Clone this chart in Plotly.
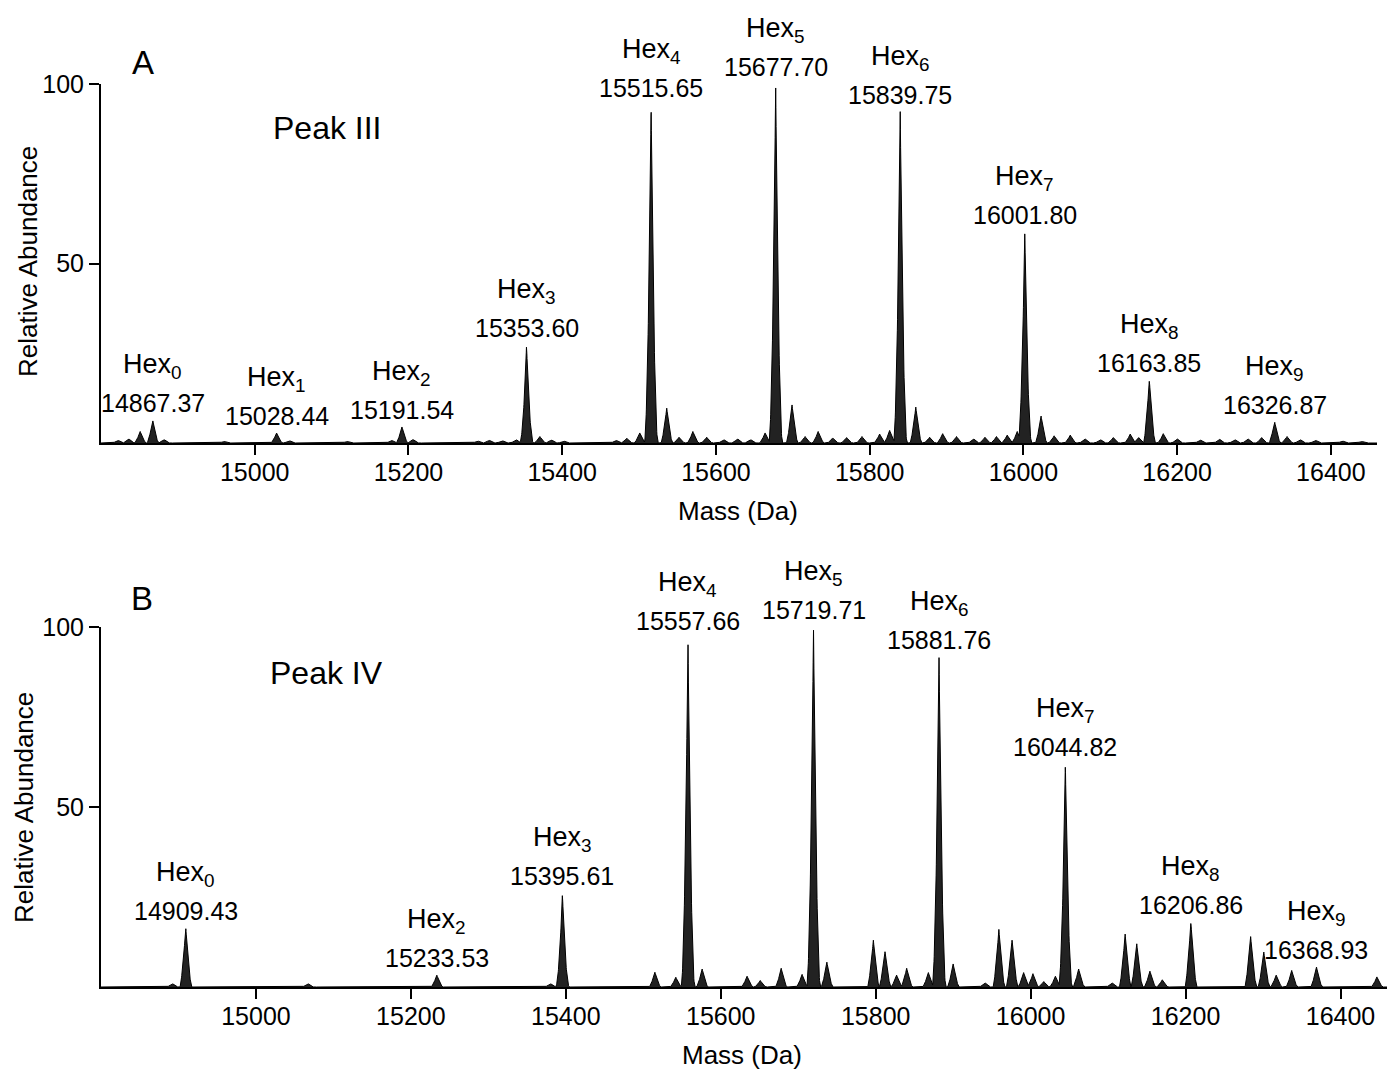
import numpy as np
import plotly.graph_objects as go

# ---------------- data ----------------
# Panel A (Peak III): peak centres (Da) and relative abundances
masses_A = [14822, 14836, 14851, 14867.37, 14882, 14960, 15028.44, 15045, 15120, 15178,
            15191.54, 15206, 15290, 15305, 15322, 15340, 15353.60, 15371, 15386, 15402,
            15470, 15484, 15501, 15515.65, 15536, 15552, 15570, 15588, 15610, 15628,
            15645, 15664, 15677.70, 15699, 15716, 15733, 15752, 15770, 15790, 15813,
            15826, 15839.75, 15860, 15878, 15895, 15913, 15935, 15950, 15965, 15979,
            15992, 16001.80, 16023, 16040, 16061, 16080, 16100, 16117, 16139, 16150,
            16163.85, 16182, 16200, 16230, 16255, 16275, 16292, 16310, 16326.87, 16343,
            16360, 16380, 16415, 16440]
abund_A = [0.8, 1.2, 3.2, 6.3, 1.0, 0.5, 2.8, 0.7, 0.5, 0.8,
           4.5, 1.0, 0.6, 0.8, 0.7, 1.0, 27.3, 1.8, 0.9, 0.6,
           0.8, 1.3, 2.8, 94.2, 9.7, 1.6, 3.2, 1.6, 1.0, 1.2,
           1.0, 2.8, 100.0, 10.6, 1.8, 3.2, 1.4, 1.5, 1.8, 2.5,
           3.5, 92.3, 10.0, 1.6, 2.6, 1.8, 1.2, 1.6, 1.8, 2.2,
           3.2, 58.9, 7.5, 2.0, 2.2, 1.2, 1.0, 1.5, 2.5, 1.5,
           17.5, 2.6, 1.2, 0.9, 1.1, 1.0, 1.2, 1.5, 5.9, 1.8,
           1.0, 0.8, 0.6, 0.5]

# Panel B (Peak IV)
masses_B = [14892, 14909.43, 15067, 15233.53, 15380, 15395.61, 15515, 15542, 15557.66, 15576,
            15634, 15651, 15678, 15705, 15719.71, 15737, 15797, 15812, 15827, 15840,
            15868, 15881.76, 15900, 15941, 15959, 15976, 15991, 16003, 16017, 16032,
            16044.82, 16062, 16105, 16122, 16137, 16154, 16170, 16206.86, 16284, 16301,
            16317, 16337, 16368.93, 16447]
abund_B = [1.0, 16.4, 1.0, 3.3, 1.0, 26.0, 4.1, 2.7, 97.0, 5.0,
           3.0, 1.8, 5.2, 3.5, 100.0, 6.9, 13.0, 9.8, 3.3, 5.2,
           4.0, 91.7, 6.4, 1.2, 16.0, 13.0, 4.0, 3.7, 1.5, 3.0,
           62.0, 5.0, 1.2, 14.7, 12.0, 4.4, 2.0, 18.0, 14.0, 9.7,
           3.3, 4.6, 5.6, 2.8]

# Labelled glycoforms
labels_A_n = [0, 1, 2, 3, 4, 5, 6, 7, 8, 9]
labels_A_mass = [14867.37, 15028.44, 15191.54, 15353.60, 15515.65, 15677.70,
                 15839.75, 16001.80, 16163.85, 16326.87]
labels_A_h = [6.3, 2.8, 4.5, 27.3, 94.2, 100.0, 92.3, 58.9, 17.5, 5.9]

labels_B_n = [0, 2, 3, 4, 5, 6, 7, 8, 9]
labels_B_mass = [14909.43, 15233.53, 15395.61, 15557.66, 15719.71, 15881.76,
                 16044.82, 16206.86, 16368.93]
labels_B_h = [16.4, 3.3, 26.0, 97.0, 100.0, 91.7, 62.0, 18.0, 5.6]

x_ticks = [15000, 15200, 15400, 15600, 15800, 16000, 16200, 16400]
y_ticks = [50, 100]
x_range = [14800, 16460]

FONT = "Liberation Sans, Arial, Helvetica, sans-serif"


def spectrum(masses, abund):
    grid = np.arange(x_range[0], x_range[1] + 0.25, 0.25)
    y = np.zeros_like(grid)
    for c, h in zip(masses, abund):
        if h >= 20:
            w, p = 9.0, 2.0
        else:
            w, p = 7.5, 1.4
        prof = h * np.clip(1 - np.abs(grid - c) / w, 0, None) ** p
        y = np.maximum(y, prof)
    return grid, y


fig = go.Figure()
xa, ya = spectrum(masses_A, abund_A)
xb, yb = spectrum(masses_B, abund_B)
for xs, ys, xr, yr in [(xa, ya, "x", "y"), (xb, yb, "x2", "y2")]:
    fig.add_trace(go.Scatter(x=xs, y=ys, mode="lines", fill="tozeroy",
                             fillcolor="#222222", line=dict(color="#000000", width=1),
                             xaxis=xr, yaxis=yr, showlegend=False, hoverinfo="skip"))

H = 1075.0
W = 1392.0
axis_common = dict(showline=True, linecolor="black", linewidth=2, ticks="outside",
                   ticklen=10, tickwidth=2, tickcolor="black", showgrid=False,
                   zeroline=False, automargin=False, tickformat="d",
                   tickfont=dict(family=FONT, size=25, color="black"))

fig.update_layout(
    template="none",
    width=1392, height=1075, margin=dict(l=0, r=0, t=0, b=0, pad=0, autoexpand=False),
    paper_bgcolor="white", plot_bgcolor="white",
    font=dict(family=FONT, color="black"),
    xaxis=dict(domain=[101 / W, 1377 / W], range=x_range, tickvals=x_ticks,
               anchor="y", ticklabelstandoff=-4, **axis_common),
    yaxis=dict(domain=[1 - 443 / H, 1 - 84 / H], range=[0, 100], tickvals=y_ticks,
               anchor="x", **axis_common),
    xaxis2=dict(domain=[101 / W, 1387 / W], range=x_range, tickvals=x_ticks,
                anchor="y2", ticklabelstandoff=-4, **axis_common),
    yaxis2=dict(domain=[1 - 987 / H, 1 - 627 / H], range=[0, 100], tickvals=y_ticks,
                anchor="x2", **axis_common),
)

ann = []
for ns, ms, hs, xr, yr in [(labels_A_n, labels_A_mass, labels_A_h, "x", "y"),
                           (labels_B_n, labels_B_mass, labels_B_h, "x2", "y2")]:
    for n, m, h in zip(ns, ms, hs):
        ann.append(dict(x=m, y=h, xref=xr, yref=yr, text=f"{m:.2f}", showarrow=False,
                        yanchor="bottom", xanchor="center", yshift=1,
                        font=dict(family=FONT, size=25, color="black")))
        ann.append(dict(x=m, y=h, xref=xr, yref=yr, text=f"Hex<sub>{n}</sub>", showarrow=False,
                        yanchor="bottom", xanchor="center", yshift=35,
                        font=dict(family=FONT, size=27, color="black")))

# panel letters, titles
for txt, px, py, size in [("A", 143, 63, 33), ("B", 142, 598, 33),
                          ("Peak III", 327, 128, 32), ("Peak IV", 326, 673, 32),
                          ("Mass (Da)", 738, 511, 26), ("Mass (Da)", 742, 1055, 26)]:
    ann.append(dict(x=px / W, y=1 - py / H, xref="paper", yref="paper", text=txt,
                    showarrow=False, xanchor="center", yanchor="middle",
                    font=dict(family=FONT, size=size, color="black")))
for px, py in [(28, 262), (24, 808)]:
    ann.append(dict(x=px / W, y=1 - py / H, xref="paper", yref="paper",
                    text="Relative Abundance", textangle=-90, showarrow=False,
                    xanchor="center", yanchor="middle",
                    font=dict(family=FONT, size=26, color="black")))

fig.update_layout(annotations=ann)
fig.write_html("out.html")
